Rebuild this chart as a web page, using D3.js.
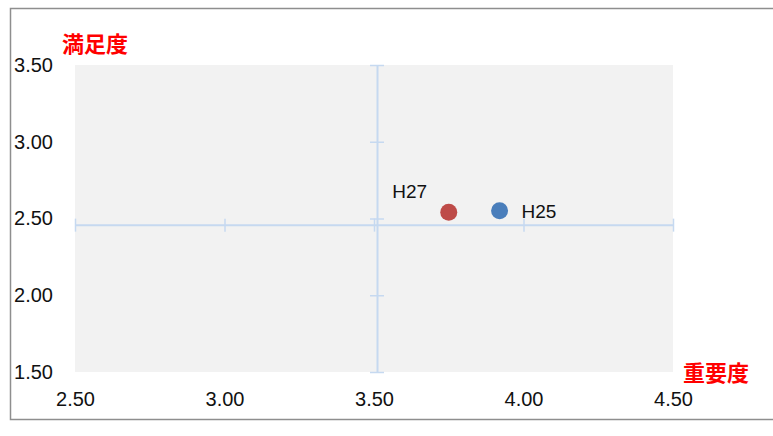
<!DOCTYPE html>
<html>
<head>
<meta charset="utf-8">
<script src="https://cdn.jsdelivr.net/npm/d3@7"></script>
<style>
  html, body { margin: 0; padding: 0; background: #fff; }
  svg { display: block; }
</style>
</head>
<body>
<svg id="chart" width="773" height="436"></svg>
<script>
// Survey items: importance (x) vs. satisfaction (y)
const labels = ["H25", "H27"];
const importance = [3.92, 3.75];
const satisfaction = [2.55, 2.54];
const colors = ["#4a7ebb", "#be4b48"];

const xTicks = [2.5, 3.0, 3.5, 4.0, 4.5];
const yTicks = [1.5, 2.0, 2.5, 3.0, 3.5];
const xDomain = [2.5, 4.5];
const yDomain = [1.5, 3.5];
// crossing point of the two reference axes
const crossX = 3.51;
const crossY = 2.46;

const xTitle = "重要度";
const yTitle = "満足度";

const svg = d3.select("#chart");
const plot = { left: 75, right: 673, top: 65, bottom: 372 };

const x = d3.scaleLinear().domain(xDomain).range([plot.left, plot.right]);
const y = d3.scaleLinear().domain(yDomain).range([plot.bottom, plot.top]);

const font = "'Liberation Sans', Arial, Helvetica, sans-serif";
const axisColor = "#c6d9f0";

// outer frame
svg.append("rect")
  .attr("x", 10.5).attr("y", 8.5)
  .attr("width", 800).attr("height", 411)
  .attr("fill", "none")
  .attr("stroke", "#8e8e8e")
  .attr("stroke-width", 1.5);

// plot background
svg.append("rect")
  .attr("x", plot.left).attr("y", plot.top)
  .attr("width", plot.right - plot.left)
  .attr("height", plot.bottom - plot.top)
  .attr("fill", "#f2f2f2");

// horizontal reference axis through crossY, ticks at each x value
const hAxis = d3.axisBottom(x).tickValues(xTicks).tickSize(0).tickFormat("");
const hg = svg.append("g").attr("transform", `translate(0,${y(crossY)})`).call(hAxis);
hg.select(".domain").attr("stroke", axisColor).attr("stroke-width", 2);
hg.selectAll(".tick line")
  .attr("y1", -6).attr("y2", 7)
  .attr("stroke", axisColor).attr("stroke-width", 1.5);

// vertical reference axis through crossX, ticks at each y value
const vAxis = d3.axisLeft(y).tickValues(yTicks).tickSize(0).tickFormat("");
const vg = svg.append("g").attr("transform", `translate(${x(crossX)},0)`).call(vAxis);
vg.select(".domain").attr("stroke", axisColor).attr("stroke-width", 2);
vg.selectAll(".tick line")
  .attr("x1", -7).attr("x2", 7)
  .attr("stroke", axisColor).attr("stroke-width", 1.5);

// x tick labels along the bottom
const xl = svg.append("g")
  .attr("transform", `translate(0,${plot.bottom})`)
  .call(d3.axisBottom(x).tickValues(xTicks).tickSize(0).tickPadding(34).tickFormat(d3.format(".2f")));
xl.select(".domain").remove();
xl.selectAll("text")
  .attr("font-family", font).attr("font-size", 20).attr("fill", "#111")
  .attr("dy", "0");

// y tick labels on the left
const yl = svg.append("g")
  .attr("transform", `translate(${plot.left},0)`)
  .call(d3.axisLeft(y).tickValues(yTicks).tickSize(0).tickPadding(22).tickFormat(d3.format(".2f")));
yl.select(".domain").remove();
yl.selectAll("text")
  .attr("font-family", font).attr("font-size", 20).attr("fill", "#111");

// axis titles
svg.append("text")
  .attr("x", 62).attr("y", 52)
  .attr("font-family", "'Noto Sans CJK JP', sans-serif")
  .attr("font-weight", "bold").attr("font-size", 22)
  .attr("fill", "#ff0000")
  .text(yTitle);
svg.append("text")
  .attr("x", 683).attr("y", 381)
  .attr("font-family", "'Noto Sans CJK JP', sans-serif")
  .attr("font-weight", "bold").attr("font-size", 22)
  .attr("fill", "#ff0000")
  .text(xTitle);

// data points
const pts = labels.map((l, i) => ({ label: l, x: importance[i], y: satisfaction[i], color: colors[i] }));
svg.append("g").selectAll("circle")
  .data(pts).join("circle")
  .attr("cx", d => x(d.x))
  .attr("cy", d => y(d.y))
  .attr("r", 8.5)
  .attr("fill", d => d.color);

// point labels: H25 to the right, H27 above-left
const labelPos = { H25: { dx: 22, dy: 7, anchor: "start" }, H27: { dx: -39, dy: -14, anchor: "middle" } };
svg.append("g").selectAll("text")
  .data(pts).join("text")
  .attr("x", d => x(d.x) + labelPos[d.label].dx)
  .attr("y", d => y(d.y) + labelPos[d.label].dy)
  .attr("text-anchor", d => labelPos[d.label].anchor)
  .attr("font-family", font).attr("font-size", 19).attr("fill", "#111")
  .text(d => d.label);
</script>
</body>
</html>
